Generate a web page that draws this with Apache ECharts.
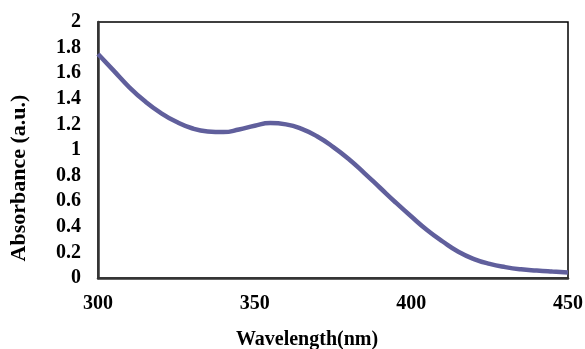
<!DOCTYPE html>
<html>
<head>
<meta charset="utf-8">
<script src="https://cdn.jsdelivr.net/npm/echarts@6/dist/echarts.min.js"></script>
<style>
  html, body { margin: 0; padding: 0; background: #fff; }
  #chart { width: 585px; height: 349px; }
</style>
</head>
<body>
<div id="chart"></div>
<script>
// wavelength (nm) and absorbance
const wavelength = [300, 305, 310, 315, 320, 325, 330, 335, 340, 345, 350, 355, 360, 365, 370,
  375, 380, 385, 390, 395, 400, 405, 410, 415, 420, 425, 430, 435, 440, 445, 450]
const absorbance = [1.75, 1.62, 1.49, 1.38, 1.29, 1.22, 1.17, 1.145, 1.14, 1.16, 1.19, 1.21, 1.20, 1.165, 1.105,
  1.025, 0.93, 0.82, 0.705, 0.59, 0.48, 0.375, 0.285, 0.205, 0.148, 0.11, 0.085, 0.068, 0.058, 0.05, 0.043]
const xTicks = [300, 350, 400, 450]
const yTicks = [0, 0.2, 0.4, 0.6, 0.8, 1, 1.2, 1.4, 1.6, 1.8, 2]

const font = '"Liberation Serif", "Times New Roman", serif'

let chart = echarts.init(document.getElementById('chart'))
let points = wavelength.map((w, i) => [w, absorbance[i]])

chart.setOption({
  animation: false,
  grid: {
    show: true,
    left: 98,
    right: 17,
    top: 22,
    bottom: 71,
    outerBoundsMode: 'none',
    containLabel: false,
    borderColor: '#000',
    borderWidth: 1.5
  },
  xAxis: {
    type: 'value',
    min: xTicks[0],
    max: xTicks[xTicks.length - 1],
    interval: 50,
    name: 'Wavelength(nm)',
    nameLocation: 'middle',
    nameGap: 52,
    nameTextStyle: { fontFamily: font, fontWeight: 'bold', fontSize: 20, color: '#000', padding: [0, 52, 0, 0] },
    axisLine: { show: true, lineStyle: { color: '#333', width: 2.5 } },
    axisTick: { show: false },
    splitLine: { show: false },
    axisLabel: { margin: 16, fontFamily: font, fontWeight: 'bold', fontSize: 20, color: '#000' }
  },
  yAxis: {
    type: 'value',
    min: yTicks[0],
    max: yTicks[yTicks.length - 1],
    interval: 0.2,
    name: 'Absorbance (a.u.)',
    nameLocation: 'middle',
    nameGap: 68,
    nameTextStyle: { fontFamily: font, fontWeight: 'bold', fontSize: 22, color: '#000', padding: [0, 56, 0, 0] },
    axisLine: { show: true, lineStyle: { color: '#333', width: 2.5 } },
    axisTick: { show: false },
    splitLine: { show: false },
    axisLabel: {
      margin: 17, fontFamily: font, fontWeight: 'bold', fontSize: 20, color: '#000',
      formatter: v => String(Math.round(v * 10) / 10)
    }
  },
  series: [{
    type: 'line',
    data: points,
    smooth: 0.5,
    showSymbol: false,
    lineStyle: { color: '#605f9c', width: 4.5 }
  }]
})
</script>
</body>
</html>
